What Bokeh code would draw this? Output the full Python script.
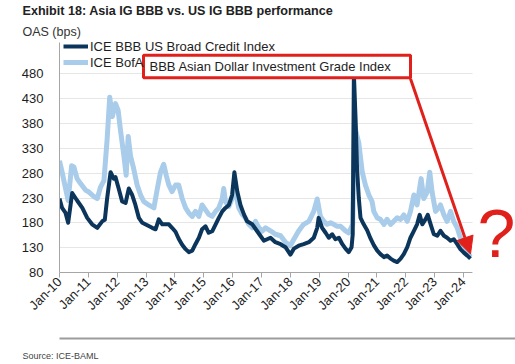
import numpy as np
from bokeh.plotting import figure
from bokeh.models import (Legend, LegendItem, Label, BoxAnnotation, Arrow, NormalHead,
                          FixedTicker, Range1d, Title, LinearAxis)
from bokeh.embed import file_html
from bokeh.resources import INLINE

# ---- data ----
dark_t = [2010.00, 2010.09, 2010.21, 2010.30, 2010.44, 2010.61, 2010.79, 2010.96,
          2011.13, 2011.31, 2011.48, 2011.57, 2011.65, 2011.77, 2011.88, 2011.94,
          2012.05, 2012.17, 2012.29, 2012.40, 2012.52, 2012.63, 2012.75, 2012.87,
          2013.04, 2013.21, 2013.33, 2013.44, 2013.56, 2013.67, 2013.79, 2013.90,
          2014.02, 2014.13, 2014.25, 2014.37, 2014.48, 2014.60, 2014.71, 2014.83, 2014.94,
          2015.06, 2015.17, 2015.29, 2015.41, 2015.52, 2015.64, 2015.75, 2015.87, 2015.98,
          2016.06, 2016.16, 2016.27, 2016.39, 2016.50, 2016.68, 2016.85, 2016.96,
          2017.08, 2017.31, 2017.48, 2017.66, 2017.83,
          2018.00, 2018.12, 2018.29, 2018.46, 2018.64, 2018.81, 2018.93, 2018.98,
          2019.10, 2019.22, 2019.33, 2019.45, 2019.56, 2019.68, 2019.80, 2019.91,
          2020.02, 2020.12, 2020.16, 2020.20, 2020.26, 2020.31, 2020.37, 2020.43, 2020.54, 2020.66, 2020.78, 2020.89,
          2021.01, 2021.12, 2021.24, 2021.35, 2021.47, 2021.58, 2021.70, 2021.82, 2021.93,
          2022.05, 2022.16, 2022.28, 2022.39, 2022.48, 2022.57, 2022.68, 2022.76, 2022.86, 2022.97,
          2023.09, 2023.20, 2023.32, 2023.43, 2023.55, 2023.66, 2023.78, 2023.89,
          2024.01, 2024.13, 2024.24]
dark_v = [229, 210, 200, 180, 240, 225, 210, 190,
          177, 170, 183, 186, 229, 282, 269, 272,
          249, 223, 220, 249, 236, 216, 190, 180,
          175, 170, 167, 187, 177, 177, 177, 170,
          162, 148, 136, 127, 121, 124, 137, 150, 167,
          173, 160, 163, 177, 190, 203, 210, 216, 236,
          282, 243, 216, 197, 183, 177, 163, 154,
          144, 150, 141, 137, 131,
          116, 128, 134, 137, 141, 150, 170, 190,
          170, 160, 150, 157, 147, 150, 137, 128,
          121, 131, 157, 480, 387, 289, 230, 190, 177, 165, 148, 135,
          124, 117, 111, 114, 108, 104, 101, 108, 117,
          131, 150, 164, 177, 196, 177, 187, 196, 177, 157,
          154, 164, 154, 150, 144, 147, 137, 127,
          120, 114, 108]

light_t = [2010.00, 2010.09, 2010.21, 2010.30, 2010.42, 2010.50, 2010.61, 2010.73, 2010.90,
           2011.02, 2011.19, 2011.31, 2011.42, 2011.54, 2011.65, 2011.74, 2011.83, 2011.94,
           2012.03, 2012.11, 2012.23, 2012.31, 2012.38, 2012.46, 2012.57, 2012.69, 2012.81, 2012.92,
           2013.09, 2013.27, 2013.39, 2013.50, 2013.61, 2013.70, 2013.79, 2013.90,
           2014.02, 2014.13, 2014.25, 2014.37, 2014.48, 2014.60, 2014.71, 2014.83, 2014.94,
           2015.06, 2015.17, 2015.29, 2015.41, 2015.52, 2015.64, 2015.69, 2015.75, 2015.87, 2015.98,
           2016.10, 2016.21, 2016.33, 2016.44, 2016.56, 2016.68, 2016.79, 2016.91,
           2017.02, 2017.14, 2017.31, 2017.48, 2017.66, 2017.83,
           2018.00, 2018.12, 2018.29, 2018.46, 2018.64, 2018.81, 2018.93,
           2019.04, 2019.16, 2019.27, 2019.39, 2019.50, 2019.62, 2019.74, 2019.91,
           2020.02, 2020.16, 2020.22, 2020.28, 2020.37, 2020.49, 2020.60, 2020.72, 2020.83, 2020.89,
           2021.01, 2021.12, 2021.24, 2021.35, 2021.47, 2021.58, 2021.70, 2021.82, 2021.93,
           2022.05, 2022.16, 2022.28, 2022.39, 2022.53, 2022.62, 2022.74, 2022.83, 2022.91,
           2023.03, 2023.14, 2023.20, 2023.32, 2023.43, 2023.55, 2023.66, 2023.78, 2023.89,
           2024.01, 2024.13, 2024.24]
light_v = [305, 282, 249, 225, 295, 292, 269, 259, 246,
           242, 233, 229, 252, 265, 348, 433, 394, 420,
           407, 368, 315, 276, 354, 315, 289, 256, 236, 223,
           216, 210, 249, 282, 298, 275, 256, 243,
           256, 256, 229, 210, 200, 193, 203, 193, 216,
           206, 197, 193, 203, 210, 229, 249, 223, 213, 229,
           243, 210, 197, 190, 177, 170, 183, 170,
           163, 170, 164, 157, 154, 141,
           134, 147, 164, 177, 183, 203, 228,
           193, 183, 177, 180, 177, 173, 173, 164,
           160, 177, 381, 361, 341, 282, 256, 236, 223, 203,
           190, 187, 177, 187, 177, 183, 190, 187, 196,
           183, 203, 236, 216, 269, 229, 242, 282, 242,
           203, 210, 216, 196, 183, 203, 183, 170, 150,
           131, 121, 111]

tick_years = list(range(2010, 2025))
tick_labels = ["Jan-10", "Jan-11", "Jan-12", "Jan-13", "Jan-14", "Jan-15", "Jan-16",
               "Jan-17", "Jan-18", "Jan-19", "Jan-20", "Jan-21", "Jan-22", "Jan-23", "Jan-24"]
y_ticks = [80, 130, 180, 230, 280, 330, 380, 430, 480]

series_names = ["ICE BBB US Broad Credit Index", "ICE BofA"]
box_text = "BBB Asian Dollar Investment Grade Index"

DARK = "#0b355b"
LIGHT = "#a8cce9"
RED = "#e0201b"
FONT = "Liberation Sans"

X_END_AXIS = 2024.31   # where the drawn x axis stops
X_END_FRAME = 2025.80  # frame runs on to the right edge (room for the "?")

p = figure(width=515, height=364, output_backend="svg", toolbar_location=None, title=None,
           x_range=Range1d(2010, X_END_FRAME), y_range=Range1d(80, 543.1),
           min_border_left=59, min_border_right=0, min_border_top=41, min_border_bottom=88)
p.outline_line_color = None
p.xgrid.visible = False
p.ygrid.grid_line_color = "#e6e6e6"
p.ygrid.grid_line_width = 1

r_light = p.line(light_t, light_v, line_color=LIGHT, line_width=5, line_join="round")
r_dark = p.line(dark_t, dark_v, line_color=DARK, line_width=4, line_join="round")

# axes
xax = p.xaxis[0]
xax.ticker = FixedTicker(ticks=tick_years)
xax.bounds = (2010, X_END_AXIS)
xax.major_label_overrides = {y: l for y, l in zip(tick_years, tick_labels)}
xax.major_label_orientation = np.pi / 4
xax.minor_tick_line_color = None
xax.axis_line_color = "#a6a6a6"
xax.major_tick_line_color = "#a6a6a6"
xax.major_tick_out = 5
xax.major_tick_in = 0
xax.major_label_standoff = 2
xax.axis_label = " "
xax.axis_label_standoff = 3
xax.axis_label_text_font_size = "10px"

yax = p.yaxis[0]
yax.ticker = FixedTicker(ticks=y_ticks)
yax.minor_tick_line_color = None
yax.major_tick_line_color = None
yax.axis_line_color = "#a6a6a6"
yax.major_label_standoff = 10
for ax in (xax, yax):
    ax.major_label_text_font = FONT
    ax.major_label_text_font_size = "13px"
    ax.major_label_text_color = "#1e1e1e"

# white panel right of the chart area (hides the grid beyond the axis end)
p.add_layout(BoxAnnotation(left=X_END_AXIS, right=X_END_FRAME, top=543.1, bottom=80,
                           fill_color="white", fill_alpha=1.0, line_color=None))

# legend
legend = Legend(items=[LegendItem(label=series_names[0], renderers=[r_dark]),
                       LegendItem(label=series_names[1], renderers=[r_light])],
                location=(4, 202), orientation="vertical",
                background_fill_alpha=0, border_line_color=None,
                padding=0, spacing=0, margin=0, label_height=16, glyph_height=16,
                glyph_width=25, label_standoff=2,
                label_text_font=FONT, label_text_font_size="13px", label_text_color="#1e1e1e")
p.add_layout(legend)

# red highlight box over the second legend entry
p.add_layout(BoxAnnotation(left=2012.911, right=2022.162, top=517.4, bottom=472.1,
                           fill_color="white", fill_alpha=1.0,
                           line_color=RED, line_alpha=1.0, line_width=3))
p.add_layout(Label(x=2013.118, y=493.8, text=box_text, text_baseline="middle",
                   text_font=FONT, text_font_size="13px", text_color="#1e1e1e"))

# red arrow and question mark
p.add_layout(Arrow(end=NormalHead(size=17, fill_color=RED, line_color=RED),
                   x_start=2022.162, y_start=470.1, x_end=2024.241, y_end=117.4,
                   line_color=RED, line_width=3))
p.add_layout(Label(x=2024.484, y=158.9, text="?", text_baseline="alphabetic",
                   text_font=FONT, text_font_size="68px", text_color=RED))

# titles (stacked above the frame)
p.add_layout(Title(text="OAS (bps)", align="left", offset=-37, standoff=8,
                   text_font=FONT, text_font_style="normal", text_font_size="12.5px",
                   text_color="#333333"), "above")
p.add_layout(Title(text="Exhibit 18: Asia IG BBB vs. US IG BBB performance", align="left",
                   offset=-37, standoff=2, text_font=FONT, text_font_style="bold",
                   text_font_size="12.6px", text_color="#222222"), "above")

# footer rule (a bare axis line) and source note
rule_axis = LinearAxis(ticker=FixedTicker(ticks=[2012]), axis_line_color="#9c9c9c",
                       axis_line_width=2, major_tick_line_color=None,
                       minor_tick_line_color=None, major_label_text_alpha=0,
                       major_label_text_font_size="1px", major_label_standoff=0)
p.add_layout(rule_axis, "below")
p.add_layout(Title(text="Source: ICE-BAML", align="left", offset=-37, standoff=8,
                   text_font=FONT, text_font_style="normal", text_font_size="9px",
                   text_color="#444444"), "below")

open("out.html", "w").write(file_html(p, INLINE))
